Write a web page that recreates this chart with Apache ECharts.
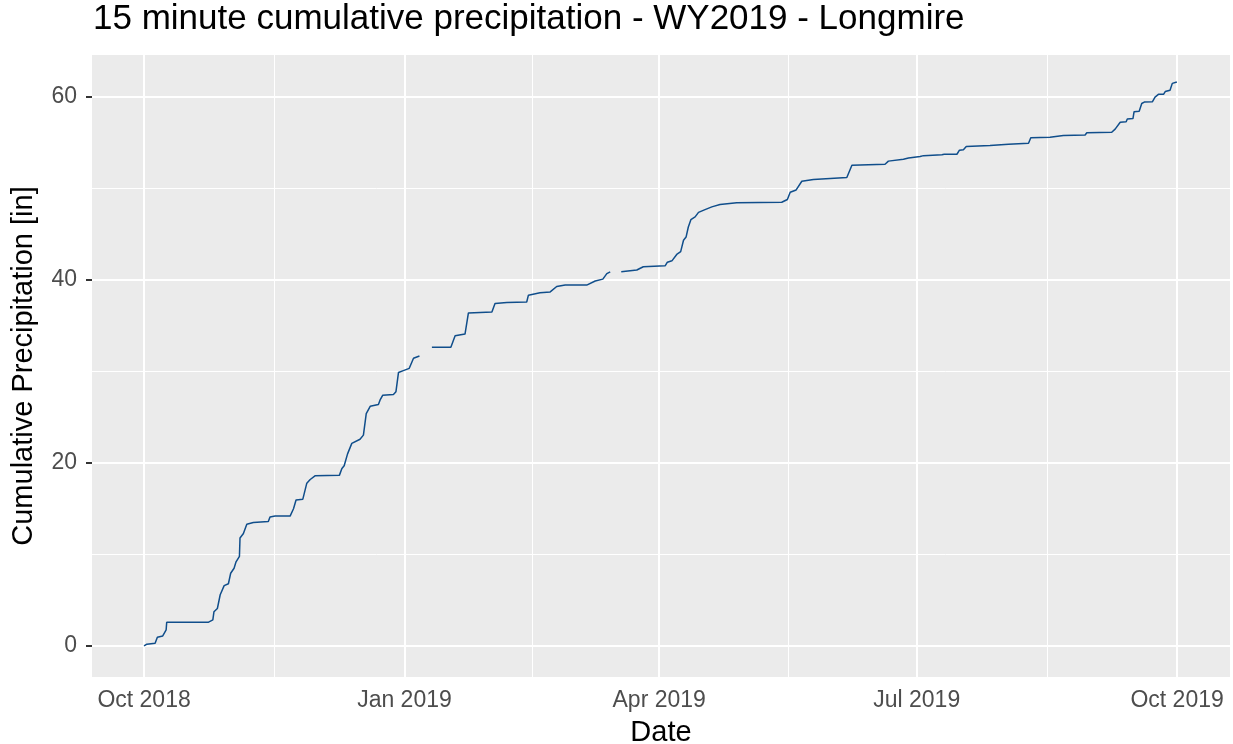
<!DOCTYPE html>
<html>
<head>
    <meta charset="utf-8">
    <title>15 minute cumulative precipitation - WY2019 - Longmire</title>
    <script src="https://cdn.jsdelivr.net/npm/echarts@6/dist/echarts.min.js"></script>
    <style>
        html, body { margin: 0; padding: 0; background: #fff; }
        #main { width: 1233px; height: 744px; }
    </style>
</head>
<body>
<div id="main"></div>
<script>
    // water year starts here, days below are counted from it
    var startDate = '2018-10-01';
    // days since start, null precip = gap in record
    var dayOffset = [
        0, 1.0, 3.9, 4.7, 6.6, 7.8, 8.0, 22.8, 24.3, 24.7, 25.9, 26.9, 28.3, 29.8, 30.6,
        31.8, 32.5, 33.7, 33.9, 35.1, 36.3, 38.6, 43.9, 44.5, 46.3, 51.6, 52.8, 53.7, 56.1,
        57.5, 58.7, 60.4, 69.0, 69.9, 70.7, 71.9, 73.4, 76.3, 77.5, 78.5, 79.9, 82.8, 83.4,
        84.3, 88.1, 89.0, 89.9, 91.6, 93.7, 95.2, 97.3,
        99.5,
        101.7, 108.4, 109.9, 113.4, 114.6, 122.9, 124.0, 128.2, 135.2, 135.8, 139.9, 143.5,
        145.8, 148.8, 156.4, 159.4, 162.1, 163.5, 164.7,
        166.6,
        168.6, 174.1, 176.4, 184.1, 184.9, 186.5, 188.2, 189.6, 190.6, 191.5, 192.3, 193.2,
        194.7, 195.9, 198.2, 200.6, 203.5, 209.4, 225.3, 225.9, 227.3, 228.3, 230.4, 232.4,
        236.5, 248.3, 250.1, 261.8, 263.0, 268.3, 270.1, 274.2, 275.4, 281.9, 282.7, 287.2,
        288.1, 289.5, 290.5, 298.9, 305.4, 312.5, 313.3, 320.1, 324.8, 332.5, 333.1, 341.9,
        343.1, 344.9, 347.0, 347.4, 349.4, 349.8, 351.6, 352.5, 353.4, 356.3, 357.2, 358.4,
        360.2, 360.8, 362.5, 363.3, 363.9, 364.9
    ];
    var precip = [
        0, 0.2, 0.3, 0.95, 1.1, 1.75, 2.6, 2.6, 2.85, 3.75, 4.1, 5.6, 6.6, 6.8, 7.95,
        8.5, 9.2, 9.8, 11.8, 12.3, 13.3, 13.5, 13.6, 14.1, 14.2, 14.2, 15.0, 15.95, 16.05,
        17.8, 18.2, 18.6, 18.65, 19.4, 19.7, 21.0, 22.15, 22.6, 23.05, 25.4, 26.2, 26.4, 26.9,
        27.4, 27.5, 27.8, 29.9, 30.1, 30.35, 31.45, 31.7,
        null,
        32.65, 32.65, 33.9, 34.1, 36.4, 36.5, 37.45, 37.55, 37.6, 38.35, 38.6, 38.7,
        39.3, 39.45, 39.45, 39.9, 40.1, 40.7, 40.9,
        null,
        40.9, 41.1, 41.45, 41.55, 41.95, 42.1, 42.8, 43.1, 44.35, 44.7, 45.8, 46.6,
        46.9, 47.4, 47.7, 48.0, 48.25, 48.45, 48.5, 48.7, 48.8, 49.6, 49.85, 50.8,
        51.0, 51.2, 52.55, 52.65, 53.0, 53.2, 53.35, 53.5, 53.6, 53.7, 53.75, 53.75,
        54.2, 54.25, 54.6, 54.7, 54.85, 54.95, 55.55, 55.6, 55.8, 55.85, 56.1, 56.15,
        56.5, 57.25, 57.3, 57.6, 57.65, 58.4, 58.45, 59.3, 59.45, 59.5, 60.0, 60.3,
        60.3, 60.6, 60.75, 61.5, 61.7, 61.65
    ];
    // axis breaks
    var xTickDates = ['2018-10-01', '2019-01-01', '2019-04-01', '2019-07-01', '2019-10-01'];
    var yTicks = [0, 20, 40, 60];
    var yMinor = [10, 30, 50];

    var DAY = 86400000;
    function ts(s) {
        var p = s.split('-');
        return new Date(+p[0], +p[1] - 1, +p[2]).getTime();
    }
    var t0 = ts(startDate);
    var MONTHS = ['Jan', 'Feb', 'Mar', 'Apr', 'May', 'Jun', 'Jul', 'Aug', 'Sep', 'Oct', 'Nov', 'Dec'];

    var seriesData = dayOffset.map(function (d, i) {
        return [t0 + d * DAY, precip[i]];
    });

    var xTicks = xTickDates.map(ts);
    var xMinor = [];
    for (var i = 1; i < xTicks.length; i++) {
        xMinor.push((xTicks[i - 1] + xTicks[i]) / 2);
    }
    // ggplot style 5% expansion
    var span = xTicks[xTicks.length - 1] - xTicks[0];
    var xMin = xTicks[0] - span * 0.0504;
    var xMax = xTicks[xTicks.length - 1] + span * 0.0512;

    var gridLines = [];
    yMinor.forEach(function (v) {
        gridLines.push({yAxis: v, lineStyle: {color: '#fff', width: 1, type: 'solid'}});
    });
    xMinor.forEach(function (v) {
        gridLines.push({xAxis: v, lineStyle: {color: '#fff', width: 1, type: 'solid'}});
    });
    yTicks.forEach(function (v) {
        gridLines.push({yAxis: v, lineStyle: {color: '#fff', width: 2, type: 'solid'}});
    });
    xTicks.forEach(function (v) {
        gridLines.push({xAxis: v, lineStyle: {color: '#fff', width: 2, type: 'solid'}});
    });

    var FONT = 'Liberation Sans, Arial, sans-serif';

    var option = {
        animation: false,
        backgroundColor: '#fff',
        title: {
            text: '15 minute cumulative precipitation - WY2019 - Longmire',
            left: 88,
            top: -3,
            textStyle: {fontFamily: FONT, fontSize: 35, fontWeight: 'normal', color: '#000'}
        },
        grid: {
            left: 92, right: 3, top: 55, bottom: 67,
            outerBoundsMode: 'none',
            show: true, backgroundColor: '#EBEBEB', borderWidth: 0
        },
        xAxis: {
            type: 'value',
            min: xMin,
            max: xMax,
            name: 'Date',
            nameLocation: 'middle',
            nameGap: 41,
            nameTextStyle: {fontFamily: FONT, fontSize: 29, color: '#000'},
            axisLine: {show: true, lineStyle: {color: 'rgba(0,0,0,0)'}},
            axisTick: {show: true, length: 6, lineStyle: {color: '#333', width: 2}, customValues: xTicks},
            axisLabel: {
                customValues: xTicks,
                margin: 12,
                fontFamily: FONT, fontSize: 23, color: '#4D4D4D',
                formatter: function (v) {
                    var d = new Date(v);
                    return MONTHS[d.getMonth()] + ' ' + d.getFullYear();
                }
            },
            splitLine: {show: false}
        },
        yAxis: {
            type: 'value',
            min: -3.39,
            max: 64.6,
            name: 'Cumulative Precipitation [in]',
            nameLocation: 'middle',
            nameGap: 54,
            nameRotate: 90,
            nameTextStyle: {fontFamily: FONT, fontSize: 29, color: '#000'},
            axisLine: {show: true, lineStyle: {color: 'rgba(0,0,0,0)'}},
            axisTick: {show: true, length: 6, lineStyle: {color: '#333', width: 2}, customValues: yTicks},
            axisLabel: {
                customValues: yTicks,
                margin: 15,
                fontFamily: FONT, fontSize: 23, color: '#4D4D4D'
            },
            splitLine: {show: false}
        },
        series: [
            {
                // panel grid lines
                type: 'line',
                data: [],
                z: 1,
                silent: true,
                markLine: {
                    z: 1,
                    silent: true,
                    symbol: 'none',
                    label: {show: false},
                    emphasis: {disabled: true},
                    data: gridLines
                }
            },
            {
                name: 'precip',
                type: 'line',
                z: 3,
                data: seriesData,
                showSymbol: false,
                connectNulls: false,
                lineStyle: {color: '#104E8B', width: 1.5},
                itemStyle: {color: '#104E8B'}
            }
        ]
    };

    var chart = echarts.init(document.getElementById('main'));
    chart.setOption(option);
</script>
</body>
</html>
